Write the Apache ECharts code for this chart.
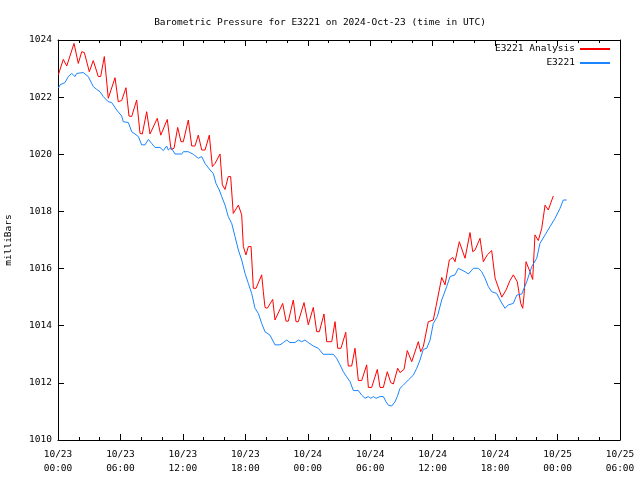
<!DOCTYPE html>
<html>
<head>
<meta charset="utf-8">
<script src="https://cdn.jsdelivr.net/npm/echarts@6/dist/echarts.min.js"></script>
<style>html,body{margin:0;padding:0;background:#fff}#c{width:640px;height:480px}</style>
</head>
<body>
<div id="c"></div>
<script>
// Hours since 2024-10-23 00:00 UTC
var analysisHours = [0.03,0.51,0.84,0.99,1.54,1.95,2.28,2.53,3.01,3.39,3.87,4.10,4.45,4.83,5.48,5.79,6.12,6.53,6.82,7.08,7.56,7.88,8.10,8.52,8.84,9.00,9.54,9.87,10.50,10.86,11.15,11.50,11.82,12.04,12.52,12.85,13.16,13.48,13.81,14.13,14.54,14.83,15.09,15.57,15.79,16.05,16.36,16.59,16.84,17.33,17.65,17.81,18.06,18.29,18.55,18.77,19.03,19.57,19.73,19.89,20.11,20.63,20.85,21.59,21.91,22.13,22.61,22.87,23.09,23.64,24.05,24.53,24.86,25.11,25.56,25.82,26.30,26.62,26.88,27.19,27.65,27.89,28.22,28.54,28.86,29.18,29.66,29.82,30.14,30.68,30.94,31.26,31.64,31.97,32.22,32.64,32.86,33.25,33.56,33.99,34.62,34.85,35.10,35.58,36.06,36.32,36.87,37.19,37.60,37.93,38.15,38.56,39.11,39.59,39.85,40.07,40.55,40.87,41.25,41.67,42.00,42.64,43.05,43.43,43.75,44.13,44.46,44.65,44.78,44.97,45.35,45.61,45.83,46.15,46.48,46.80,47.11,47.59];
var analysisValues = [1022.78,1023.32,1023.09,1023.09,1023.88,1023.18,1023.59,1023.56,1022.89,1023.28,1022.72,1022.72,1023.42,1021.96,1022.68,1021.84,1021.88,1022.33,1021.34,1021.32,1021.90,1020.73,1020.71,1021.49,1020.71,1020.71,1021.26,1020.67,1021.22,1020.17,1020.21,1020.94,1020.44,1020.44,1021.20,1020.29,1020.29,1020.67,1020.15,1020.15,1020.67,1019.57,1019.68,1020.01,1018.93,1018.77,1019.22,1019.22,1017.93,1018.22,1017.88,1016.77,1016.48,1016.77,1016.77,1015.31,1015.31,1015.78,1015.19,1014.64,1014.61,1014.92,1014.20,1014.78,1014.16,1014.16,1014.90,1014.14,1014.14,1014.81,1014.03,1014.64,1013.79,1013.79,1014.41,1013.44,1013.44,1014.14,1013.21,1013.21,1013.77,1012.59,1012.59,1013.21,1012.08,1012.08,1012.63,1011.84,1011.84,1012.47,1011.84,1011.84,1012.39,1012.01,1011.96,1012.51,1012.36,1012.47,1013.13,1012.74,1013.44,1013.09,1013.27,1014.14,1014.20,1014.67,1015.69,1015.43,1016.30,1016.39,1016.24,1016.94,1016.36,1017.26,1016.59,1016.65,1017.06,1016.24,1016.48,1016.63,1015.66,1015.00,1015.25,1015.58,1015.78,1015.54,1014.78,1014.61,1015.07,1016.24,1015.89,1015.62,1017.18,1016.98,1017.41,1018.22,1018.05,1018.54];

var obsHours = [0.03,0.19,0.67,0.99,1.32,1.63,1.80,2.43,2.59,2.91,3.07,3.39,3.72,4.04,4.35,4.83,5.16,5.64,6.12,6.27,6.76,7.08,7.40,7.72,8.04,8.36,8.68,9.00,9.32,9.80,10.12,10.44,10.60,10.86,11.24,11.89,12.04,12.52,13.00,13.48,13.81,14.13,14.61,14.92,15.18,15.50,15.73,16.05,16.36,16.69,17.01,17.33,17.65,17.97,18.29,18.61,18.93,19.25,19.57,19.89,20.37,20.85,21.33,21.65,21.98,22.29,22.77,23.09,23.42,23.73,24.05,24.53,25.01,25.49,26.45,26.77,27.10,27.41,27.74,28.06,28.38,28.86,29.18,29.50,29.82,30.05,30.30,30.56,30.94,31.26,31.52,31.74,32.07,32.38,32.60,32.86,33.18,33.66,34.14,34.47,34.78,35.10,35.43,35.75,36.06,36.45,36.87,37.35,37.67,38.15,38.46,39.11,39.43,39.91,40.39,40.71,41.03,41.35,41.67,42.15,42.47,42.95,43.27,43.75,44.08,44.56,45.04,45.52,46.00,46.31,46.80,47.28,47.76,48.24,48.55,48.88];
var obsValues = [1022.31,1022.43,1022.51,1022.72,1022.83,1022.72,1022.83,1022.86,1022.89,1022.72,1022.66,1022.37,1022.27,1022.19,1022.02,1021.84,1021.81,1021.55,1021.34,1021.14,1021.11,1020.79,1020.71,1020.62,1020.33,1020.33,1020.52,1020.38,1020.24,1020.24,1020.13,1020.29,1020.15,1020.24,1020.01,1020.01,1020.09,1020.09,1020.00,1019.86,1019.92,1019.68,1019.45,1019.33,1018.98,1018.75,1018.52,1018.22,1017.82,1017.58,1017.12,1016.65,1016.30,1015.83,1015.48,1015.13,1014.61,1014.43,1014.08,1013.79,1013.67,1013.33,1013.33,1013.41,1013.50,1013.41,1013.41,1013.50,1013.44,1013.50,1013.41,1013.29,1013.21,1013.00,1013.00,1012.86,1012.63,1012.39,1012.21,1012.04,1011.73,1011.73,1011.57,1011.46,1011.52,1011.46,1011.52,1011.46,1011.52,1011.52,1011.34,1011.22,1011.19,1011.34,1011.52,1011.81,1011.92,1012.10,1012.27,1012.51,1012.80,1013.17,1013.21,1013.50,1014.08,1014.32,1014.90,1015.37,1015.72,1015.78,1016.01,1015.89,1015.81,1016.01,1016.01,1015.89,1015.66,1015.37,1015.19,1015.13,1014.90,1014.61,1014.73,1014.78,1015.07,1015.11,1015.54,1016.07,1016.36,1016.88,1017.18,1017.47,1017.76,1018.11,1018.40,1018.40];

var xTickLabels = ['10/23\n00:00','10/23\n06:00','10/23\n12:00','10/23\n18:00','10/24\n00:00','10/24\n06:00','10/24\n12:00','10/24\n18:00','10/25\n00:00','10/25\n06:00'];
var seriesNames = ['E3221 Analysis', 'E3221'];

function zip(a, b) { return a.map(function (v, i) { return [v, b[i]]; }); }

var FONT = 'DejaVu Sans Mono';
var txt = { fontFamily: FONT, fontSize: 9.5, color: '#000' };

var chart = echarts.init(document.getElementById('c'), null, { renderer: 'canvas' });
var baseX = {
  type: 'value', min: 0, max: 54, interval: 6,
  axisLine: { show: true, onZero: false, lineStyle: { color: '#000', width: 1 } },
  axisTick: { show: true, inside: true, length: 6, lineStyle: { color: '#000' } },
  minorTick: { show: true, splitNumber: 3, length: 3, lineStyle: { color: '#000' } },
  splitLine: { show: false }
};
var baseY = {
  type: 'value', min: 1010, max: 1024, interval: 2,
  axisLine: { show: true, onZero: false, lineStyle: { color: '#000', width: 1 } },
  axisTick: { show: true, inside: true, length: 6, lineStyle: { color: '#000' } },
  splitLine: { show: false }
};
chart.setOption({
  animation: false,
  backgroundColor: '#fff',
  title: {
    text: 'Barometric Pressure for E3221 on 2024-Oct-23 (time in UTC)',
    left: 'center', top: 13,
    textStyle: { fontFamily: FONT, fontSize: 9.5, fontWeight: 'normal', color: '#000' }
  },
  legend: [
    { data: [seriesNames[0]], right: 30, top: 44, align: 'right', itemWidth: 30, itemHeight: 2, icon: 'rect', itemGap: 4, textStyle: txt, padding: 0 },
    { data: [seriesNames[1]], right: 30, top: 58, align: 'right', itemWidth: 30, itemHeight: 2, icon: 'rect', itemGap: 4, textStyle: txt, padding: 0 }
  ],
  grid: { left: 58, right: 20, top: 40, bottom: 40, containLabel: false, outerBoundsMode: 'none' },
  xAxis: [
    Object.assign({}, baseX, {
      position: 'bottom',
      axisLabel: {
        show: true, fontFamily: FONT, fontSize: 9.5, color: '#000', lineHeight: 14, margin: 8,
        formatter: function (v) { return xTickLabels[Math.round(v / 6)] || ''; }
      }
    }),
    Object.assign({}, baseX, { position: 'top', axisLabel: { show: false } })
  ],
  yAxis: [
    Object.assign({}, baseY, {
      position: 'left',
      name: 'milliBars', nameLocation: 'middle', nameGap: 44, nameRotate: 90,
      nameTextStyle: { fontFamily: FONT, fontSize: 9.5, color: '#000' },
      axisLabel: { show: true, fontFamily: FONT, fontSize: 9.5, color: '#000', margin: 6,
        formatter: function (v) { return String(v); } }
    }),
    Object.assign({}, baseY, { position: 'right', axisLabel: { show: false } })
  ],
  series: [
    {
      name: seriesNames[0], type: 'line', xAxisIndex: 0, yAxisIndex: 0,
      data: zip(analysisHours, analysisValues),
      symbol: 'none', showSymbol: false,
      lineStyle: { color: '#ff0000', width: 1 }, itemStyle: { color: '#ff0000' }
    },
    {
      name: seriesNames[1], type: 'line', xAxisIndex: 0, yAxisIndex: 0,
      data: zip(obsHours, obsValues),
      symbol: 'none', showSymbol: false,
      lineStyle: { color: '#1a85ff', width: 1 }, itemStyle: { color: '#1a85ff' }
    }
  ]
});
</script>
</body>
</html>
